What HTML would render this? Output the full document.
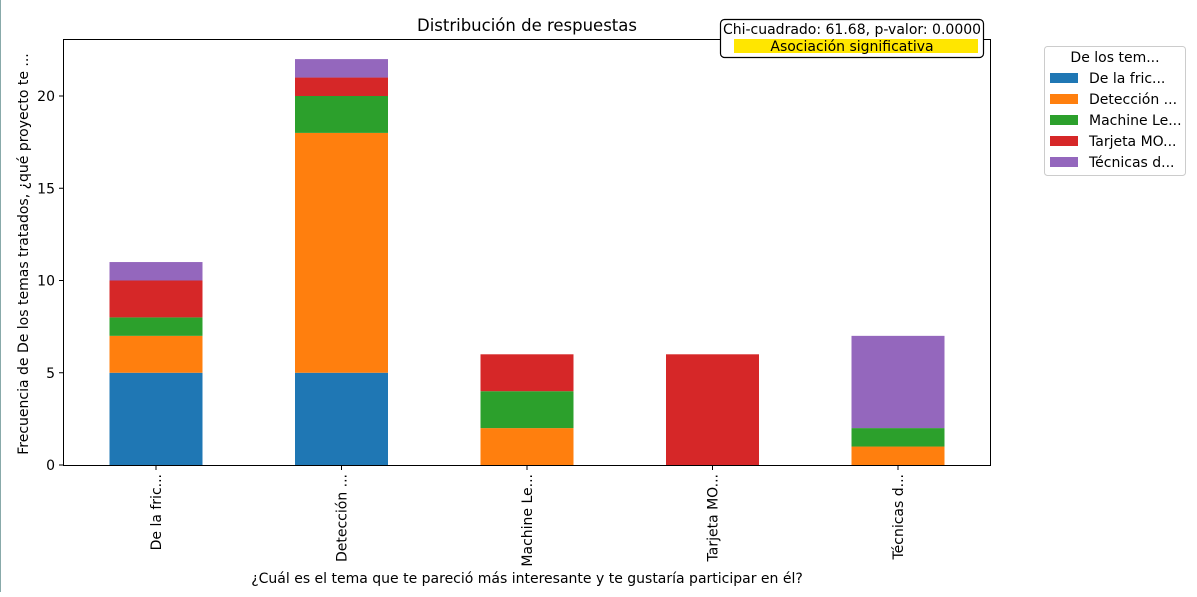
<!DOCTYPE html>
<html><head><meta charset="utf-8"><style>
body{margin:0;background:#fff;width:1197px;height:592px;overflow:hidden}
svg{font-family:"DejaVu Sans","Liberation Sans",sans-serif}
</style></head><body>
<svg id="chart" width="1197" height="592">
<rect x="0" y="0" width="1197" height="592" fill="#fff"/>
<line x1="0.5" y1="0" x2="0.5" y2="592" stroke="#8aa" stroke-width="1"/>
<g id="bars"></g>
<rect x="63.5" y="39.5" width="927" height="426" fill="none" stroke="#000" stroke-width="1"/>
<g id="yaxis" font-size="14"></g>
<g id="xaxis" font-size="14"></g>
<text x="527" y="31" text-anchor="middle" font-size="16.5">Distribución de respuestas</text>
<text x="527" y="583" text-anchor="middle" font-size="14">¿Cuál es el tema que te pareció más interesante y te gustaría participar en él?</text>
<text transform="translate(28,254) rotate(-90)" text-anchor="middle" font-size="14">Frecuencia de De los temas tratados, ¿qué proyecto te ...</text>
<g>
<rect x="720.5" y="19.5" width="263" height="38" rx="4" fill="#fff" stroke="#000" stroke-width="1.2"/>
<rect x="734" y="39" width="244" height="14" fill="#ffe600"/>
<text x="852" y="34" text-anchor="middle" font-size="14">Chi-cuadrado: 61.68, p-valor: 0.0000</text>
<text x="852" y="51" text-anchor="middle" font-size="14">Asociación significativa</text>
</g>
<g id="legend">
<rect x="1044.5" y="46.5" width="141" height="129" rx="3" fill="#fff" stroke="#ccc"/>
<text x="1115" y="62" text-anchor="middle" font-size="14">De los tem...</text>
</g>
</svg>
<script>
const categories=["De la fric...","Detección ...","Machine Le...","Tarjeta MO...","Técnicas d..."];
const seriesNames=["De la fric...","Detección ...","Machine Le...","Tarjeta MO...","Técnicas d..."];
const sBlue=[5,5,0,0,0];
const sOrange=[2,13,2,0,1];
const sGreen=[1,2,2,0,1];
const sRed=[2,1,2,6,0];
const sPurple=[1,1,0,0,5];
const yTicks=[0,5,10,15,20];
const colors=["#1f77b4","#ff7f0e","#2ca02c","#d62728","#9467bd"];
const series=[sBlue,sOrange,sGreen,sRed,sPurple];
const NS="http://www.w3.org/2000/svg";
const y=v=>465-v*18.45;
const xc=i=>156+i*185.5;
const bw=93;
const bars=document.getElementById('bars');
categories.forEach((c,i)=>{
  let acc=0;
  series.forEach((s,k)=>{
    const v=s[i]; if(!v){return;}
    const r=document.createElementNS(NS,'rect');
    r.setAttribute('x',xc(i)-bw/2);r.setAttribute('width',bw);
    r.setAttribute('y',y(acc+v));r.setAttribute('height',y(acc)-y(acc+v));
    r.setAttribute('fill',colors[k]);
    
    
    bars.appendChild(r);acc+=v;
  });
});
const ya=document.getElementById('yaxis');
yTicks.forEach(t=>{
  const l=document.createElementNS(NS,'line');
  l.setAttribute('x1',59);l.setAttribute('x2',63);l.setAttribute('y1',y(t));l.setAttribute('y2',y(t));l.setAttribute('stroke','#000');
  ya.appendChild(l);
  const tx=document.createElementNS(NS,'text');
  tx.setAttribute('x',55);tx.setAttribute('y',y(t)+5);tx.setAttribute('text-anchor','end');tx.textContent=t;
  
  
  ya.appendChild(tx);
});
const xa=document.getElementById('xaxis');
categories.forEach((c,i)=>{
  const l=document.createElementNS(NS,'line');
  l.setAttribute('x1',xc(i));l.setAttribute('x2',xc(i));l.setAttribute('y1',465);l.setAttribute('y2',470);l.setAttribute('stroke','#000');
  xa.appendChild(l);
  const tx=document.createElementNS(NS,'text');
  tx.setAttribute('transform',`translate(${xc(i)+5},474) rotate(-90)`);
  tx.setAttribute('text-anchor','end');tx.textContent=c;
  
  
  xa.appendChild(tx);
});
const lg=document.getElementById('legend');
seriesNames.forEach((n,k)=>{
  const r=document.createElementNS(NS,'rect');
  r.setAttribute('x',1050);r.setAttribute('y',73+k*21);r.setAttribute('width',28);r.setAttribute('height',10);r.setAttribute('fill',colors[k]);
  
  
  lg.appendChild(r);
  const t=document.createElementNS(NS,'text');
  t.setAttribute('x',1089);t.setAttribute('y',83+k*21);t.setAttribute('font-size','14');t.textContent=n;
  
  
  lg.appendChild(t);
});
</script>
</body></html>
